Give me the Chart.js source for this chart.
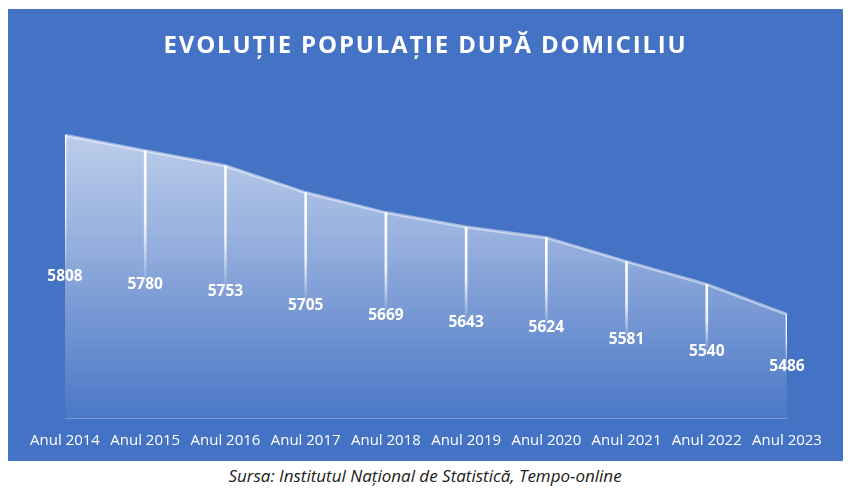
<!DOCTYPE html>
<html>
<head>
<meta charset="utf-8">
<script src="https://cdn.jsdelivr.net/npm/chart.js@4"></script>
<style>
  body { margin: 0; background: #fff; width: 850px; height: 488px; position: relative; overflow: hidden; }
  #panel { position: absolute; left: 8px; top: 9px; width: 835px; height: 452px; background: #4472C4; }
  #title { position: absolute; left: 0; right: 0; top: 18px; margin: 0; text-align: center; color: #fff;
           font: bold 24px "Open Sans", sans-serif; letter-spacing: 1.8px; }
  #chart { position: absolute; left: 0; top: 0; }
  #source { position: absolute; left: 0; right: 0; top: 464px; text-align: center; color: #1a1a1a;
            font: italic 17px "Open Sans", sans-serif; }
</style>
</head>
<body>
<div id="panel">
  <canvas id="chart" width="835" height="452"></canvas>
  <h1 id="title">EVOLUȚIE POPULAȚIE DUPĂ DOMICILIU</h1>
</div>
<div id="source">Sursa: Institutul Național de Statistică, Tempo-online</div>
<script>
// date (mii persoane)
var categories = ['Anul 2014','Anul 2015','Anul 2016','Anul 2017','Anul 2018','Anul 2019','Anul 2020','Anul 2021','Anul 2022','Anul 2023'];
var values = [5808, 5780, 5753, 5705, 5669, 5643, 5624, 5581, 5540, 5486];
var yMin = 5300, yMax = 5900;

function areaGradient(context) {
    var chart = context.chart, area = chart.chartArea;
    if (!area) return 'rgba(255,255,255,0.4)';
    var g = chart.ctx.createLinearGradient(0, area.top, 0, area.bottom);
    g.addColorStop(0, 'rgba(255,255,255,0.75)');
    g.addColorStop(0.5, 'rgba(255,255,255,0.42)');
    g.addColorStop(1, 'rgba(255,255,255,0.04)');
    return g;
}

// linia verticala: alb sus, se stinge spre eticheta
function dropGradient(context) {
    var chart = context.chart, area = chart.chartArea;
    if (!area || context.dataIndex == null) return '#fff';
    var y = chart.scales.y;
    var top = y.getPixelForValue(values[context.dataIndex]);
    var mid = (top + y.bottom) / 2;
    var g = chart.ctx.createLinearGradient(0, top, 0, mid);
    g.addColorStop(0, 'rgba(255,255,255,1)');
    g.addColorStop(0.55, 'rgba(255,255,255,0.85)');
    g.addColorStop(1, 'rgba(255,255,255,0)');
    return g;
}

var valueLabels = {
    id: 'valueLabels',
    afterDatasetsDraw: function(chart) {
        var ctx = chart.ctx;
        var meta = chart.getDatasetMeta(1);
        var base = chart.scales.y.bottom;
        ctx.save();
        ctx.fillStyle = '#fff';
        ctx.font = 'bold 15.5px "Open Sans", sans-serif';
        ctx.textAlign = 'center';
        ctx.textBaseline = 'middle';
        meta.data.forEach(function(pt, i) {
            ctx.fillText(String(values[i]), pt.x, (pt.y + base) / 2);
        });
        ctx.restore();
    }
};

new Chart(document.getElementById('chart'), {
    data: {
        labels: categories,
        datasets: [{
            type: 'bar',
            data: values,
            barThickness: 2,
            backgroundColor: dropGradient,
            borderWidth: 0,
            order: 0
        }, {
            type: 'line',
            data: values,
            fill: 'origin',
            backgroundColor: areaGradient,
            borderColor: 'rgba(255,255,255,0.5)',
            borderWidth: 3,
            pointRadius: 0,
            tension: 0,
            order: 1
        }]
    },
    options: {
        responsive: false,
        animation: false,
        layout: { padding: { left: 57, right: 56, top: 75, bottom: 5 } },
        plugins: { legend: { display: false }, tooltip: { enabled: false } },
        scales: {
            x: {
                offset: false,
                grid: { display: false },
                border: { display: true, color: 'rgba(255,255,255,0.28)', width: 1 },
                ticks: { color: '#fff', font: { family: '"Open Sans", sans-serif', size: 15 }, padding: 6, maxRotation: 0 }
            },
            y: { display: false, min: yMin, max: yMax }
        }
    },
    plugins: [valueLabels]
});
</script>
</body>
</html>
